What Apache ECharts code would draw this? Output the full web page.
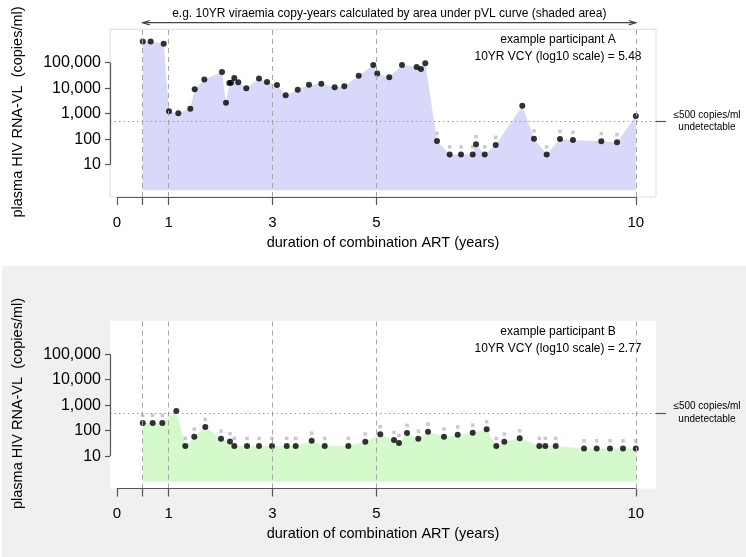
<!DOCTYPE html>
<html><head><meta charset="utf-8">
<script src="https://cdn.jsdelivr.net/npm/echarts@6/dist/echarts.min.js"></script>
<style>html,body{margin:0;padding:0;background:#fff}#c{width:746px;height:557px}</style>
</head><body><div id="c"></div>
<script>
// ---- data ----
const xTicks = [0, 0.5, 1, 3, 5, 10];
const xTickLabels = [0, 1, 3, 5, 10];
const yTicks = [10, 100, 1000, 10000, 100000];
const undetectable = 500;

const yearsA = [0.5,0.653,0.904,1.006,1.185,1.416,1.501,1.686,2.027,2.104,2.168,2.2,2.264,2.341,2.495,2.74,2.894,3.087,3.254,3.486,3.703,3.94,4.198,4.383,4.661,4.942,5.019,5.25,5.495,5.778,5.861,5.944,6.17,6.414,6.632,6.857,6.921,7.089,7.3,7.813,8.038,8.283,8.539,8.789,9.335,9.638,10.0];
const vlA = [680000,680000,560000,1240,1040,1570,9100,22000,43000,2700,16000,16500,25000,17000,9900,24000,17500,13300,5300,8700,13700,15000,10800,11900,31000,81000,38000,27000,81000,68000,57000,95000,85,25,25,25,63,25,59,2060,105,25,102,93,83,76,810];
const limitA = [null,null,null,null,null,null,null,null,null,null,null,null,null,null,null,null,null,null,null,null,null,null,null,null,null,null,null,null,null,null,null,null,170,50,50,50,126,50,118,null,210,50,204,186,166,152,null];

const yearsB = [0.5,0.692,0.877,1.147,1.32,1.493,1.705,2.008,2.181,2.264,2.509,2.74,2.99,3.274,3.447,3.755,4.006,4.461,4.788,5.077,5.341,5.437,5.592,5.809,5.996,6.304,6.568,6.857,7.127,7.312,7.466,7.763,8.141,8.256,8.457,9.002,9.246,9.503,9.753,10.0];
const vlB = [200,200,200,590,25,58,140,48,38,25,25,25,25,25,25,40,25,25,37,72,43,33,81,48,91,58,70,83,113,25,37,50,25,25,25,20,20,20,20,20];
const limitB = [400,400,400,null,50,116,280,96,76,50,50,50,50,50,50,80,50,50,74,144,86,66,162,96,182,116,140,166,226,50,74,100,50,50,50,40,40,40,40,40];

const panelTexts = [
  ['example participant A', '10YR VCY (log10 scale) = 5.48'],
  ['example participant B', '10YR VCY (log10 scale) = 2.77']
];
const topTitle = 'e.g. 10YR viraemia copy-years calculated by area under pVL curve (shaded area)';
const yTitle = 'plasma HIV RNA-VL  (copies/ml)';
const xTitle = 'duration of combination ART (years)';
const refLabel = '\u2264500 copies/ml\nundetectable';

// ---- layout / style ----
const FONT = '"Liberation Sans", Arial, Helvetica, sans-serif';
const L = Math.log10;
const X_MIN = -0.131, X_MAX = 10.389, Y_MIN = -0.267, Y_MAX = 6.31;
const gridDefs = [
  {left:110, top:29.3, width:546, height:167.7, show:true, borderColor:'#dcdcdc', borderWidth:1, backgroundColor:'#fff'},
  {left:110, top:320.8, width:546, height:167.7, show:true, borderWidth:0, backgroundColor:'#fff'}
];
const fills = ['#d8d8fa', '#d4facc'];
const panels = [[yearsA, vlA, limitA], [yearsB, vlB, limitB]];
const axisDark = {type:'solid', color:'#555', width:1.2};

const xAxes = [], yAxes = [], series = [];
panels.forEach((p, i) => {
  const [yrs, vl, lim] = p;
  xAxes.push({
    type:'value', gridIndex:i, min:X_MIN, max:X_MAX,
    axisLine:{show:false, onZero:false}, splitLine:{show:false},
    axisTick:{show:true, customValues:xTicks, length:8, lineStyle:{color:'#555', width:1.2}},
    axisLabel:{customValues:xTickLabels, margin:18, fontSize:15, color:'#000', fontFamily:FONT},
    name:xTitle, nameLocation:'middle', nameGap:38,
    nameTextStyle:{fontSize:14.5, color:'#000', fontFamily:FONT}
  });
  yAxes.push({
    type:'value', gridIndex:i, min:Y_MIN, max:Y_MAX, position:'left',
    axisLine:{show:false, onZero:false}, splitLine:{show:false},
    axisTick:{show:true, customValues:yTicks.map(L), length:5, lineStyle:{color:'#555', width:1.2}},
    axisLabel:{customValues:yTicks.map(L), margin:9, fontSize:16, color:'#000', fontFamily:FONT,
      formatter:v => Math.round(Math.pow(10, v)).toLocaleString('en-US')}
  });
  yAxes.push({
    type:'value', gridIndex:i, min:Y_MIN, max:Y_MAX, position:'right',
    axisLine:{show:false, onZero:false}, splitLine:{show:false},
    axisTick:{show:true, customValues:[L(undetectable)], length:10, lineStyle:{color:'#555', width:1.2}},
    axisLabel:{customValues:[L(undetectable)], margin:51, fontSize:10, lineHeight:12.5, align:'center',
      color:'#000', fontFamily:FONT, formatter:() => refLabel}
  });
  const yi = i * 2;
  series.push({
    type:'line', xAxisIndex:i, yAxisIndex:yi, z:1, silent:true, clip:false,
    data: yrs.map((x, k) => [x, L(vl[k])]),
    symbol:'none', lineStyle:{width:0, opacity:0},
    areaStyle:{color:fills[i], opacity:1},
    markLine:{
      silent:true, symbol:['none','none'], label:{show:false},
      lineStyle:{type:[5,4], color:'#a6a6a6', width:1},
      data: xTicks.slice(1).map(v => ({xAxis:v})).concat([
        {yAxis:L(undetectable), lineStyle:{type:[1.5,3], color:'#9a9a9a', width:1}},
        // R-style axis lines spanning first..last tick
        [{coord:[X_MIN, L(yTicks[0])], lineStyle:axisDark}, {coord:[X_MIN, L(yTicks[yTicks.length-1])]}],
        [{coord:[xTicks[0], Y_MIN], lineStyle:axisDark}, {coord:[xTicks[xTicks.length-1], Y_MIN]}]
      ])
    }
  });
  const limData = [];
  lim.forEach((v, k) => { if (v != null) limData.push([yrs[k], L(v)]); });
  series.push({
    type:'scatter', xAxisIndex:i, yAxisIndex:yi, z:3, silent:true,
    symbol:'rect', symbolSize:3.5, itemStyle:{color:'#bcbcbc'}, data:limData
  });
  series.push({
    type:'scatter', xAxisIndex:i, yAxisIndex:yi, z:4, silent:true,
    symbol:'circle', symbolSize:6, itemStyle:{color:'#000'},
    data: yrs.map((x, k) => [x, L(vl[k])])
  });
});

const chart = echarts.init(document.getElementById('c'), null, {renderer:'canvas'});
chart.setOption({
  animation:false,
  backgroundColor:'#fff',
  grid:gridDefs, xAxis:xAxes, yAxis:yAxes, series:series
});

// annotations
const p1 = chart.convertToPixel({xAxisIndex:0, yAxisIndex:0}, [0.5, Y_MAX]);
const p2 = chart.convertToPixel({xAxisIndex:0, yAxisIndex:0}, [10, Y_MAX]);
const ay = p1[1] - 6.6, ah = 7, aw = 2.2;
const g = [
  {type:'rect', z:-100, shape:{x:2, y:266, width:744, height:291}, style:{fill:'#f0f0f0'}},
  {type:'text', x:(p1[0]+p2[0])/2, y:13.3, style:{text:topTitle, textAlign:'center', textVerticalAlign:'middle', font:'12px ' + FONT, fill:'#000'}},
  {type:'polyline', shape:{points:[[p1[0], ay],[p2[0], ay]]}, style:{stroke:'#444', lineWidth:1.2}},
  {type:'polyline', shape:{points:[[p1[0]+ah, ay-aw],[p1[0], ay],[p1[0]+ah, ay+aw]]}, style:{stroke:'#444', lineWidth:1.2, fill:null}},
  {type:'polyline', shape:{points:[[p2[0]-ah, ay-aw],[p2[0], ay],[p2[0]-ah, ay+aw]]}, style:{stroke:'#444', lineWidth:1.2, fill:null}}
];
gridDefs.forEach((gd, i) => {
  const off = gd.top - gridDefs[0].top;
  g.push({type:'text', x:18, y:112 + off, rotation:Math.PI/2,
    style:{text:yTitle, textAlign:'center', textVerticalAlign:'middle', font:'14.5px ' + FONT, fill:'#000'}});
  g.push({type:'text', x:558, y:40 + off,
    style:{text:panelTexts[i][0], textAlign:'center', textVerticalAlign:'middle', font:'12px ' + FONT, fill:'#000'}});
  g.push({type:'text', x:558, y:56.7 + off,
    style:{text:panelTexts[i][1], textAlign:'center', textVerticalAlign:'middle', font:'12px ' + FONT, fill:'#000'}});
});
chart.setOption({graphic:g});
</script>
</body></html>
